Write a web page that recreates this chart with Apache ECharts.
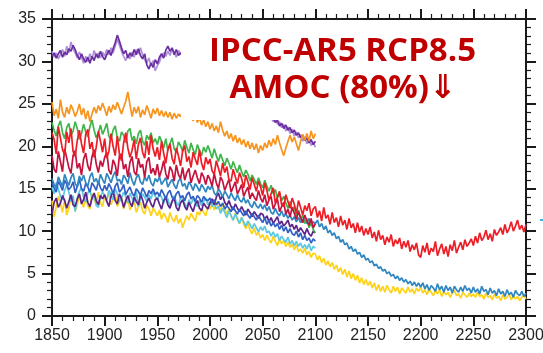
<!DOCTYPE html>
<html><head><meta charset="utf-8">
<script src="https://cdn.jsdelivr.net/npm/echarts@6/dist/echarts.min.js"></script>
<style>html,body{margin:0;padding:0;background:#fff}#c{width:543px;height:353px}</style>
</head><body><div id="c"></div><script>
// x values: every series starts in 1850, one value every 2 years
const startYear = 1850, yearStep = 2;
const xTickLabels = ["1850","1900","1950","2000","2050","2100","2150","2200","2250","2300"];
const yTickLabels = ["0","5","10","15","20","25","30","35"];
const titleLines = ["IPCC-AR5 RCP8.5", "AMOC (80%)\u21D3"];

// 1850-2100
const purpleDark = [30.6,31.0,30.4,30.9,31.3,30.5,31.1,30.8,31.5,31.2,31.9,31.4,30.7,30.2,30.9,30.3,29.9,30.5,29.8,30.6,30.1,30.9,30.4,31.2,30.6,
30.2,30.8,31.3,30.7,31.5,32.2,33.1,32.4,31.6,30.9,31.3,30.4,31.0,30.6,31.4,30.8,31.5,30.7,30.3,30.9,29.6,29.1,29.8,29.3,30.2,
29.7,30.5,30.9,30.4,31.3,31.8,31.2,31.6,30.8,31.4,30.7,
31.0,30.6,30.2,30.5,29.9,29.6,29.8,29.2,29.0,28.7,28.9,28.3,28.0,28.2,27.6,27.4,27.6,27.0,26.8,26.9,26.4,26.1,26.3,25.8,25.6,25.7,25.2,25.0,25.1,24.7,24.5,24.6,24.2,24.0,24.1,23.8,23.9,23.6,23.7,23.4,23.6,23.3,23.5,23.2,
23.4,22.8,23.1,22.4,22.7,22.1,22.5,21.9,22.2,21.6,21.9,21.3,21.6,21.0,21.3,20.7,21.0,20.4,20.8,20.2,20.6];
const lavender = [31.2,30.5,31.0,30.3,30.8,31.4,30.6,31.8,31.0,32.3,31.5,31.0,30.4,31.1,30.5,29.8,30.6,30.0,30.9,30.3,31.3,30.5,31.0,30.4,31.1,
30.6,31.4,30.8,31.6,31.0,31.8,32.6,31.9,31.2,30.6,30.1,30.8,30.3,31.1,30.5,31.4,30.9,31.6,30.8,30.2,29.8,30.4,29.5,30.1,28.9,
29.5,29.9,30.7,31.0,30.6,31.2,30.7,31.5,31.1,30.5,31.3,
30.9,31.1,30.7,30.3,30.4,29.9,29.5,29.7,29.1,28.9,28.5,28.6,28.1,27.8,27.9,27.3,27.1,27.2,26.6,26.5,26.2,26.4,25.9,25.7,25.8,25.3,25.1,25.2,24.8,24.6,24.7,24.3,24.1,24.2,23.9,24.0,23.7,23.8,23.5,23.6,23.3,23.5,23.2,23.4,
22.9,23.2,22.6,22.9,22.2,22.6,21.8,22.3,21.5,22.0,21.2,21.7,21.0,21.4,20.6,21.1,20.3,20.8,20.1,20.5,19.9];
const orange = [25.2,23.6,24.4,23.3,25.5,24.0,23.4,24.6,23.8,24.9,24.3,23.5,24.1,25.0,23.7,24.5,23.2,24.2,22.9,23.8,24.6,23.9,24.8,24.2,25.1,
24.4,23.6,24.7,24.0,24.9,24.3,25.2,24.5,23.8,24.6,25.3,26.4,24.9,23.5,24.6,23.9,24.7,23.4,24.3,23.7,24.8,24.1,23.3,24.4,23.8,
24.5,23.6,24.2,23.5,24.1,23.4,24.0,23.2,23.9,23.3,23.8,
23.5,24.1,23.4,23.9,23.2,23.7,23.0,23.6,22.8,23.4,22.5,23.1,22.3,22.9,22.0,22.7,21.8,22.4,21.6,22.9,21.9,21.2,21.8,20.9,21.5,20.6,21.3,20.4,21.0,20.2,20.8,19.9,20.6,19.7,20.4,19.6,20.3,19.2,20.1,19.5,
20.4,19.8,20.7,20.0,20.9,20.2,21.3,20.4,19.6,18.9,19.8,20.6,21.3,20.5,21.1,20.3,19.5,20.6,21.4,20.7,21.5,20.6,21.8,20.9,21.5];
const green = [22.8,21.9,21.2,22.4,23.0,21.6,20.9,22.2,22.7,21.3,21.8,22.9,22.1,20.8,21.5,22.6,21.7,21.1,22.3,23.1,21.9,21.0,21.6,22.5,21.4,
22.0,22.7,21.2,20.8,21.9,22.4,21.0,20.6,21.7,21.3,20.4,21.8,22.1,20.7,21.2,20.3,21.5,21.9,20.6,20.1,21.3,20.8,21.6,20.4,20.9,
20.2,21.2,20.6,19.8,20.9,19.5,20.3,21.0,19.7,19.3,20.5,20.1,19.4,20.7,19.9,19.2,20.4,19.6,19.0,20.2,19.5,18.9,19.9,19.3,20.1,
19.4,18.6,19.7,18.9,18.2,19.1,18.4,17.7,18.6,18.0,17.3,18.2,17.5,16.9,17.8,17.0,16.4,17.2,16.7,15.9,16.6,16.1,15.5,16.3,15.6,
15.1,16.0,15.3,14.7,15.4,14.4,14.9,13.9,14.5,13.6,14.1,13.3,12.7,13.5,12.4,12.9,11.8,12.5,11.4,11.9,10.9,11.5,10.4,11.0,10.2,9.8];
const crimson = [18.9,17.3,16.9,19.4,18.2,17.0,19.7,18.6,17.5,16.8,18.9,19.5,17.4,18.0,16.6,18.5,19.2,17.7,17.1,18.8,19.6,17.9,16.9,18.3,17.6,
18.7,19.3,17.2,16.7,18.4,17.8,16.5,18.9,19.1,17.3,17.9,16.4,18.1,18.8,17.0,16.6,18.6,17.5,17.9,16.3,18.2,18.7,16.8,17.4,16.6,
17.9,16.4,17.2,18.3,16.8,16.1,17.6,17.1,15.9,17.8,16.7,16.2,17.5,16.0,16.9,17.4,15.7,16.5,17.2,16.3,15.6,16.9,16.4,15.5,16.6,
16.1,15.3,16.8,15.7,15.0,16.4,15.9,14.8,15.5,16.1,14.6,15.2,15.8,14.4,14.9,15.5,14.1,14.7,15.2,13.8,14.5,14.0,13.6,14.8,13.9,
13.4,14.3,13.0,13.7,14.1,12.6,13.2,13.8,12.3,12.9,13.4,12.0,12.6,11.7,12.8,12.1,11.4,12.3,11.6,11.0,11.9,11.2,10.7,11.5,10.4,10.9];
const royalBlue = [15.7,15.1,14.6,15.9,15.4,14.8,16.0,15.5,14.9,15.2,15.8,14.5,15.3,16.1,15.0,14.7,15.6,15.2,14.6,15.7,15.3,14.8,15.9,15.1,14.7,
15.4,14.8,15.6,15.1,14.4,15.3,15.7,14.6,14.9,15.5,14.3,14.8,15.2,14.5,14.1,15.0,14.7,14.2,15.1,14.6,14.0,14.8,14.4,15.0,14.3,
14.6,14.1,14.9,14.4,13.8,14.5,14.8,14.0,13.7,14.4,14.7,13.9,14.2,13.6,14.3,14.6,13.8,14.1,13.5,14.2,13.9,13.4,14.1,13.7,13.6,
13.9,13.3,13.7,13.1,13.5,12.9,13.3,12.6,13.0,12.7,12.3,12.9,12.4,12.0,12.6,12.2,11.8,12.4,11.9,11.5,12.1,11.7,11.3,11.9,11.4,
11.0,11.6,10.8,11.3,10.6,11.0,10.5,10.9,10.2,10.7,10.0,10.5,9.8,10.3,9.7,9.5,10.0,9.3,9.8,9.0,9.5,8.9,9.2,8.6,9.1,8.8];
const cyan = [15.2,14.4,15.7,15.0,14.1,13.7,14.8,15.4,14.6,13.5,14.2,12.3,13.9,14.7,15.1,14.0,13.4,14.5,14.9,13.8,14.4,13.0,12.8,14.1,14.6,
14.2,13.6,14.8,14.3,13.7,15.0,14.4,13.5,13.9,14.6,14.1,13.3,14.5,13.9,13.4,14.7,12.9,13.8,14.4,14.0,13.5,14.3,13.8,14.6,14.1,
13.7,14.4,14.0,13.3,14.1,13.8,12.9,13.6,14.2,13.4,13.0,13.9,14.1,13.3,12.8,13.7,13.2,13.8,13.4,12.9,13.6,13.0,13.5,13.9,13.1,
13.5,12.9,13.3,12.6,12.9,12.1,12.7,12.2,11.6,12.4,11.8,11.3,12.0,11.5,10.9,11.6,11.1,10.6,11.2,10.8,10.3,10.9,10.4,9.9,10.5,
10.1,10.6,9.8,10.0,9.4,9.9,9.3,9.7,8.9,9.4,9.0,8.7,9.3,8.5,8.9,8.3,8.8,8.2,8.6,8.0,8.4,7.9,8.5,7.7,8.2,8.0];
const darkPurple = [12.1,13.4,13.9,12.8,13.3,14.2,13.6,12.7,13.5,14.3,13.1,12.9,13.8,14.4,13.2,13.7,14.6,13.4,12.9,13.9,14.5,13.6,13.1,14.2,13.8,
14.3,13.5,12.9,14.1,14.7,13.6,13.2,14.4,13.8,12.8,13.6,14.2,13.4,12.9,14.0,13.5,13.1,14.3,13.7,12.7,13.4,13.9,13.2,12.8,13.7,
13.9,13.2,12.6,13.6,14.0,13.1,12.7,13.5,13.9,12.8,12.4,13.3,13.7,12.9,12.5,13.4,12.8,12.3,13.2,13.6,12.7,12.4,13.3,12.9,12.6,
13.3,13.8,13.1,14.0,14.5,13.7,14.2,13.4,13.0,13.6,12.9,12.5,13.2,12.7,12.3,12.9,12.4,11.9,12.6,12.2,11.7,12.3,11.9,11.5,12.1,
12.0,11.4,11.8,11.1,11.6,10.9,11.3,11.7,10.8,11.2,10.6,10.9,11.3,10.5,10.8,10.2,10.7,9.9,10.4,10.0,9.6,10.3,9.7,9.4,10.0,9.8];

// 1850-2300
const yellow = [13.6,11.7,12.9,14.1,13.3,12.2,13.8,11.9,12.7,14.0,13.5,12.4,13.1,14.3,13.6,12.8,14.1,13.0,12.6,14.4,13.7,13.2,14.6,13.4,12.9,
14.2,13.6,14.7,13.1,13.8,14.4,12.9,13.5,14.0,12.6,13.3,13.9,12.5,13.0,13.6,12.2,12.9,13.4,12.4,12.0,13.1,12.6,11.8,12.7,12.3,
11.8,12.5,11.4,12.1,11.7,11.0,12.2,11.5,11.1,11.9,10.9,11.5,10.4,11.2,11.8,11.3,12.1,11.6,11.2,12.3,11.9,12.7,12.2,11.8,12.9,
12.6,13.2,12.5,13.4,12.9,12.4,13.3,12.6,12.0,12.7,11.8,11.3,12.1,11.4,10.9,11.6,10.8,10.3,11.0,10.1,9.7,10.4,9.5,9.9,9.2,
9.6,8.9,9.5,9.0,8.6,9.4,8.8,8.3,9.1,8.5,8.9,8.2,8.7,8.1,8.5,7.8,8.4,7.6,7.9,7.4,8.0,7.2,7.6,6.9,7.4,
7.3,6.6,7.1,6.3,6.8,6.0,6.5,5.8,6.3,5.5,6.0,5.2,5.7,4.9,5.5,4.6,5.3,4.4,5.0,4.2,4.8,3.9,4.5,3.7,4.3,
3.6,4.1,3.3,3.9,3.0,3.7,2.9,3.5,2.8,3.6,3.1,2.7,3.5,2.9,3.4,2.6,3.3,3.0,2.7,3.4,2.8,3.2,2.6,3.3,2.9,
3.4,2.7,3.1,2.5,3.2,2.8,2.4,3.0,2.6,3.1,2.3,2.9,2.5,2.8,2.2,2.7,3.0,2.4,2.6,2.1,2.8,2.5,2.2,2.7,2.3,
2.6,2.2,2.8,2.3,2.5,2.0,2.7,2.2,2.4,1.9,2.6,2.1,2.3,1.8,2.5,2.0,2.2,2.6,1.9,2.4,2.0,2.3,1.8,2.2,2.5,2.0];
const steelBlue = [16.2,15.5,15.1,16.4,15.8,15.3,16.7,16.0,15.4,16.3,16.8,15.6,15.2,16.5,15.9,16.6,15.7,15.3,16.4,16.9,15.8,16.2,15.5,16.7,16.1,
15.6,16.8,16.3,15.7,16.5,17.0,15.9,16.1,15.5,16.6,16.2,15.6,16.9,16.0,15.4,16.3,16.7,15.8,15.5,16.4,15.9,16.6,15.7,15.3,16.2,
15.8,16.4,15.5,15.9,16.3,15.2,15.7,16.1,15.4,15.0,15.9,16.2,15.3,15.6,14.9,15.8,15.4,14.8,15.6,15.2,14.7,15.5,15.1,14.6,15.3,
14.9,15.4,14.5,14.2,15.0,14.6,14.0,14.7,14.3,13.8,14.5,14.0,13.6,14.3,13.7,13.4,14.0,13.3,13.7,13.1,12.8,13.5,13.0,12.7,13.2,
12.6,13.1,12.4,12.9,12.2,12.0,12.7,12.1,11.8,12.4,11.7,12.1,11.5,11.9,11.3,11.7,11.1,11.6,11.0,11.4,11.2,10.9,11.5,10.8,11.1,
10.9,11.3,10.5,10.9,10.2,10.6,9.8,10.1,9.5,9.8,9.1,9.4,8.7,9.0,8.4,8.6,7.9,8.2,7.6,7.9,7.3,7.5,6.9,7.2,6.6,
6.8,6.3,6.5,5.9,6.1,5.6,5.8,5.3,5.5,5.0,5.2,4.7,4.9,4.4,4.7,4.2,4.5,4.0,4.3,3.8,4.1,3.6,4.0,3.5,3.9,
3.4,3.9,3.2,3.7,3.0,3.6,3.3,2.9,3.8,3.1,3.5,2.8,3.6,3.0,3.4,2.7,3.5,3.1,2.8,3.4,2.9,3.6,3.0,3.3,2.7,
3.4,2.8,3.2,2.6,3.5,2.9,3.1,2.5,3.3,2.7,3.0,2.4,3.2,2.6,2.9,2.3,3.1,2.5,2.8,2.2,3.0,2.6,2.4,2.9,2.3,2.7];
const red = [21.6,20.8,19.1,22.3,21.0,19.6,19.0,21.7,20.4,22.1,19.4,18.8,20.7,21.9,20.3,19.2,21.4,22.0,19.7,20.5,18.7,19.9,21.8,20.6,19.3,
20.9,18.6,19.4,21.5,20.0,18.9,21.2,19.1,18.3,20.4,21.6,19.8,18.7,19.5,20.8,18.5,20.2,21.0,19.3,18.6,20.6,19.0,21.3,19.7,18.8,
19.9,18.4,20.6,19.2,18.0,19.6,20.3,18.6,17.9,19.8,18.9,17.7,19.4,20.1,18.2,18.8,17.5,19.3,18.5,17.8,19.6,18.0,17.2,18.7,17.9,
18.5,17.1,16.7,18.3,17.4,16.5,18.0,16.9,17.6,16.0,15.9,17.3,16.4,15.6,16.9,16.2,15.1,16.6,15.8,14.9,16.3,15.5,14.7,15.9,15.2,
14.2,15.7,14.8,13.6,14.4,15.1,13.3,14.0,14.7,13.1,12.9,14.3,13.5,12.7,13.9,13.2,12.1,13.6,12.8,11.9,13.0,12.4,13.3,11.8,12.6,
12.9,11.6,12.4,11.2,12.8,11.5,11.9,10.8,12.2,11.0,11.6,10.5,11.8,10.7,11.3,10.2,11.5,10.4,10.9,9.8,11.0,9.9,10.6,9.5,10.3,
9.6,10.5,9.2,9.9,8.8,10.1,9.0,9.5,8.4,9.3,8.7,9.6,8.2,9.0,8.5,9.2,7.9,8.8,8.1,8.9,7.6,8.4,7.8,8.6,7.2,
6.9,8.3,7.5,8.6,7.2,8.0,7.6,8.8,7.1,7.9,8.5,7.3,8.2,7.0,8.4,7.7,8.9,7.4,8.1,8.7,7.8,9.0,8.2,8.6,9.1,
8.3,9.4,8.6,9.8,8.9,9.3,10.1,9.0,9.7,8.8,10.2,9.5,9.9,10.4,9.6,10.8,9.8,10.3,11.1,10.0,10.6,11.3,10.2,10.7,9.9,10.8];

const seriesDefs = [
  ["lavender", lavender, "#AE8FD8"],
  ["purpleDark", purpleDark, "#6A2FA0"],
  ["orange", orange, "#F7941E"],
  ["yellow", yellow, "#FFD21A"],
  ["cyan", cyan, "#5CC8E2"],
  ["darkPurple", darkPurple, "#5E2387"],
  ["royalBlue", royalBlue, "#3360C4"],
  ["steelBlue", steelBlue, "#2F86C0"],
  ["green", green, "#3DB54A"],
  ["crimson", crimson, "#C4123F"],
  ["red", red, "#EE1C25"]
];

function toPairs(arr){ return arr.map((v,i)=>[startYear + yearStep*i, v]); }

const chart = echarts.init(document.getElementById('c'), null, {renderer:'canvas'});
const axisCol = '#1a1a1a';
const labelFont = {fontFamily:'"Liberation Sans", Arial, sans-serif', fontSize:16, color:'#222'};
function xAx(pos, show){
  return {type:'value', position:pos, min:1850, max:2300, interval:50,
    axisLine:{show:true, onZero:false, lineStyle:{color:axisCol, width:2}},
    axisTick:{show:true, length:10, lineStyle:{color:axisCol, width:2}},
    minorTick:{show:true, splitNumber:5, length:5, lineStyle:{color:axisCol, width:1.2}},
    splitLine:{show:false},
    axisLabel:Object.assign({show:show, margin:12, formatter:v=>xTickLabels[Math.round((v-1850)/50)] || String(v)}, labelFont)};
}
function yAx(pos, show){
  return {type:'value', position:pos, min:0, max:35, interval:5,
    axisLine:{show:true, onZero:false, lineStyle:{color:axisCol, width:2}},
    axisTick:{show:true, length:10, lineStyle:{color:axisCol, width:2}},
    minorTick:{show:true, splitNumber:5, length:5, lineStyle:{color:axisCol, width:1.2}},
    splitLine:{show:false},
    axisLabel:Object.assign({show:show, margin:16, formatter:v=>yTickLabels[Math.round(v/5)] || String(v)}, labelFont)};
}

chart.setOption({
  animation:false,
  backgroundColor:'#fff',
  grid:{left:52, top:19, width:474, height:297, containLabel:false, outerBoundsMode:'none'},
  xAxis:[xAx('bottom', true), xAx('top', false)],
  yAxis:[yAx('left', true), yAx('right', false)],
  series: seriesDefs.map(([name, arr, col]) => ({
    name, type:'line', data:toPairs(arr), showSymbol:false, symbol:'none',
    lineStyle:{color:col, width:1.7}, itemStyle:{color:col}, z:2
  })),
  graphic:[
    {type:'rect', shape:{x:181, y:21, width:343, height:99}, style:{fill:'#fff'}, z:100, silent:true},
    {type:'text', x:342.5, y:52, z:101, style:{text:titleLines[0], fill:'#C00000', font:'bold 33px "Open Sans", sans-serif', align:'center', verticalAlign:'middle'}},
    {type:'text', x:343, y:89, z:101, style:{text:titleLines[1], fill:'#C00000', font:'bold 33px "Open Sans", "DejaVu Sans", sans-serif', align:'center', verticalAlign:'middle'}},
    {type:'rect', shape:{x:540, y:219, width:3, height:2}, style:{fill:'#3CB4E6'}, z:100, silent:true}
  ]
});
</script></body></html>
